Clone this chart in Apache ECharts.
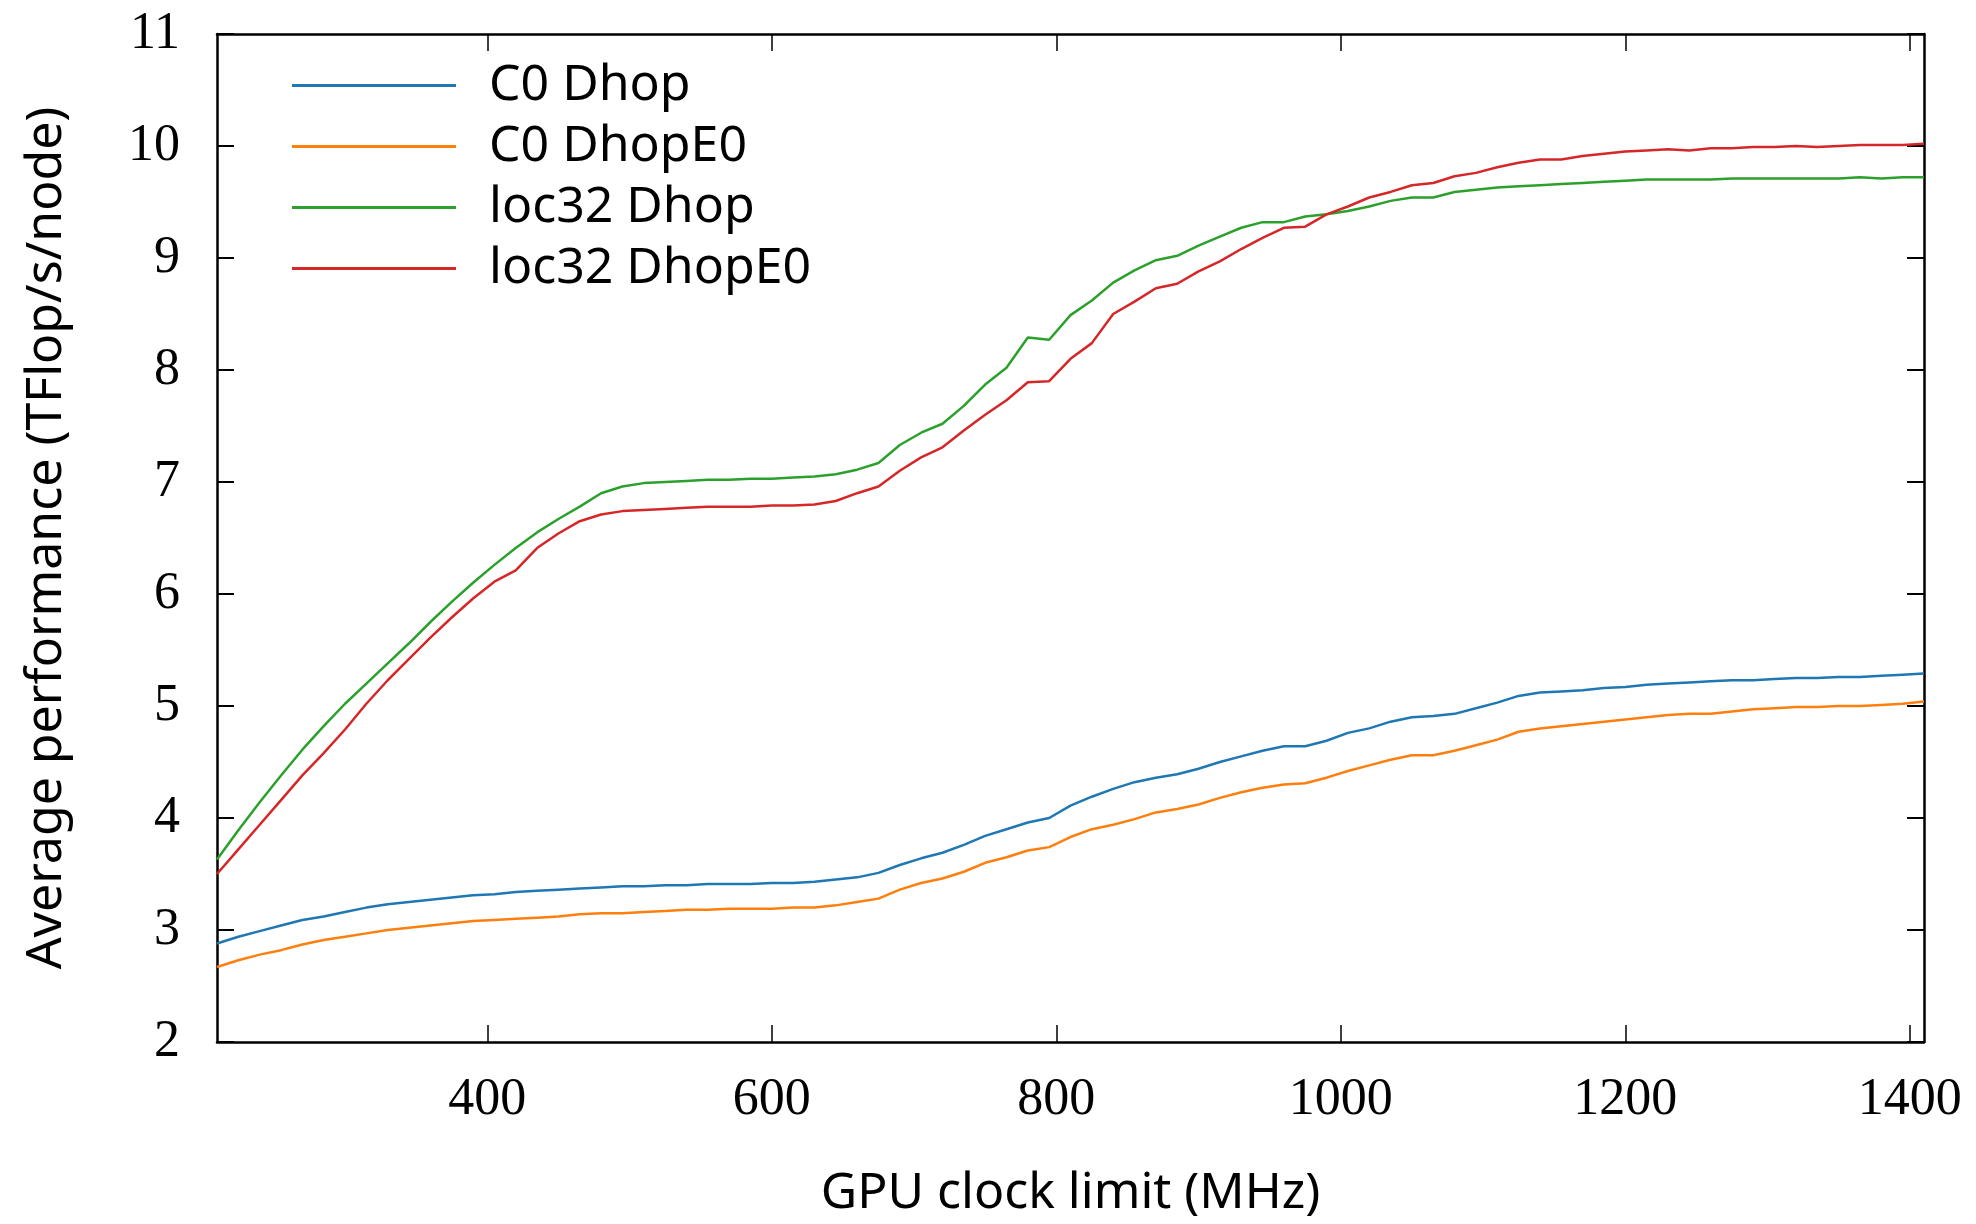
<!DOCTYPE html>
<html>
<head>
<meta charset="utf-8">
<title>GPU clock limit vs performance</title>
<script src="https://cdn.jsdelivr.net/npm/echarts@6/dist/echarts.min.js"></script>
<style>
    html, body { margin: 0; padding: 0; background: #fff; }
    #chart { width: 1976px; height: 1224px; }
</style>
</head>
<body>
<div id="chart"></div>
<script>
// GPU clock steps (MHz)
var clocks = [210, 225, 240, 255, 270, 285, 300, 315, 330, 345, 360, 375, 390, 405, 420, 435,
    450, 465, 480, 495, 510, 525, 540, 555, 570, 585, 600, 615, 630, 645, 660, 675, 690, 705,
    720, 735, 750, 765, 780, 795, 810, 825, 840, 855, 870, 885, 900, 915, 930, 945, 960, 975,
    990, 1005, 1020, 1035, 1050, 1065, 1080, 1095, 1110, 1125, 1140, 1155, 1170, 1185, 1200,
    1215, 1230, 1245, 1260, 1275, 1290, 1305, 1320, 1335, 1350, 1365, 1380, 1395, 1410];

// TFlop/s/node
var c0Dhop = [2.88, 2.94, 2.99, 3.04, 3.09, 3.12, 3.16, 3.20, 3.23, 3.25, 3.27, 3.29, 3.31, 3.32,
    3.34, 3.35, 3.36, 3.37, 3.38, 3.39, 3.39, 3.40, 3.40, 3.41, 3.41, 3.41, 3.42, 3.42, 3.43, 3.45,
    3.47, 3.51, 3.58, 3.64, 3.69, 3.76, 3.84, 3.90, 3.96, 4.00, 4.11, 4.19, 4.26, 4.32, 4.36, 4.39,
    4.44, 4.50, 4.55, 4.60, 4.64, 4.64, 4.69, 4.76, 4.80, 4.86, 4.90, 4.91, 4.93, 4.98, 5.03, 5.09,
    5.12, 5.13, 5.14, 5.16, 5.17, 5.19, 5.20, 5.21, 5.22, 5.23, 5.23, 5.24, 5.25, 5.25, 5.26, 5.26,
    5.27, 5.28, 5.29];
var c0DhopE0 = [2.67, 2.73, 2.78, 2.82, 2.87, 2.91, 2.94, 2.97, 3.00, 3.02, 3.04, 3.06, 3.08, 3.09,
    3.10, 3.11, 3.12, 3.14, 3.15, 3.15, 3.16, 3.17, 3.18, 3.18, 3.19, 3.19, 3.19, 3.20, 3.20, 3.22,
    3.25, 3.28, 3.36, 3.42, 3.46, 3.52, 3.60, 3.65, 3.71, 3.74, 3.83, 3.90, 3.94, 3.99, 4.05, 4.08,
    4.12, 4.18, 4.23, 4.27, 4.30, 4.31, 4.36, 4.42, 4.47, 4.52, 4.56, 4.56, 4.60, 4.65, 4.70, 4.77,
    4.80, 4.82, 4.84, 4.86, 4.88, 4.90, 4.92, 4.93, 4.93, 4.95, 4.97, 4.98, 4.99, 4.99, 5.00, 5.00,
    5.01, 5.02, 5.04];
var loc32Dhop = [3.63, 3.89, 4.14, 4.38, 4.61, 4.82, 5.02, 5.20, 5.38, 5.56, 5.75, 5.93, 6.10, 6.26,
    6.41, 6.55, 6.67, 6.78, 6.90, 6.96, 6.99, 7.00, 7.01, 7.02, 7.02, 7.03, 7.03, 7.04, 7.05, 7.07,
    7.11, 7.17, 7.33, 7.44, 7.52, 7.68, 7.87, 8.02, 8.29, 8.27, 8.49, 8.62, 8.78, 8.89, 8.98, 9.02,
    9.11, 9.19, 9.27, 9.32, 9.32, 9.37, 9.39, 9.42, 9.46, 9.51, 9.54, 9.54, 9.59, 9.61, 9.63, 9.64,
    9.65, 9.66, 9.67, 9.68, 9.69, 9.70, 9.70, 9.70, 9.70, 9.71, 9.71, 9.71, 9.71, 9.71, 9.71, 9.72,
    9.71, 9.72, 9.72];
var loc32DhopE0 = [3.50, 3.72, 3.94, 4.16, 4.38, 4.58, 4.79, 5.02, 5.23, 5.42, 5.61, 5.79, 5.96, 6.11,
    6.21, 6.41, 6.54, 6.65, 6.71, 6.74, 6.75, 6.76, 6.77, 6.78, 6.78, 6.78, 6.79, 6.79, 6.80, 6.83,
    6.90, 6.96, 7.10, 7.22, 7.31, 7.46, 7.60, 7.73, 7.89, 7.90, 8.10, 8.24, 8.50, 8.61, 8.73, 8.77,
    8.88, 8.97, 9.08, 9.18, 9.27, 9.28, 9.39, 9.46, 9.54, 9.59, 9.65, 9.67, 9.73, 9.76, 9.81, 9.85,
    9.88, 9.88, 9.91, 9.93, 9.95, 9.96, 9.97, 9.96, 9.98, 9.98, 9.99, 9.99, 10.00, 9.99, 10.00, 10.01,
    10.01, 10.01, 10.02];

var seriesNames = ['C0 Dhop', 'C0 DhopE0', 'loc32 Dhop', 'loc32 DhopE0'];
var seriesColors = ['#1f77b4', '#ff7f0e', '#2ca02c', '#d62728'];
var xTicks = [400, 600, 800, 1000, 1200, 1400];
var yTicks = [2, 3, 4, 5, 6, 7, 8, 9, 10, 11];

var sansFont = 'Noto Sans';
var serifFont = 'Liberation Serif';

function pairs(values) {
    return clocks.map(function (c, i) { return [c, values[i]]; });
}

function makeSeries(values, idx) {
    return {
        name: seriesNames[idx],
        type: 'line',
        data: pairs(values),
        symbol: 'none',
        smooth: false,
        animation: false,
        lineStyle: { color: seriesColors[idx], width: 2.5 },
        itemStyle: { color: seriesColors[idx] }
    };
}

// plain numbers, no thousands separator
function plain(v) {
    return String(v);
}

// shared frame line
var frame = { show: true, lineStyle: { color: '#000', width: 2.5 } };

function option() {
    return {
        backgroundColor: '#fff',
        animation: false,
        grid: { left: 217, right: 52, top: 34, bottom: 179 },
        legend: {
            orient: 'vertical',
            left: 287,
            top: 50,
            icon: 'rect',
            itemWidth: 164,
            itemHeight: 3,
            itemGap: 0,
            textStyle: {
                fontFamily: sansFont,
                fontSize: 50,
                color: '#000',
                lineHeight: 61,
                padding: [0, 0, 0, 28]
            },
            data: seriesNames
        },
        xAxis: [{
            type: 'value',
            min: 210,
            max: 1410,
            position: 'bottom',
            name: 'GPU clock limit (MHz)',
            nameLocation: 'middle',
            nameGap: 127,
            nameTextStyle: { fontFamily: sansFont, fontSize: 50, color: '#000' },
            axisLine: frame,
            axisTick: {
                inside: true, length: 17, customValues: xTicks,
                lineStyle: { color: '#000', width: 1.5 }
            },
            axisLabel: {
                customValues: xTicks,
                formatter: plain,
                margin: 32,
                fontFamily: serifFont,
                fontSize: 52,
                color: '#000'
            },
            splitLine: { show: false }
        }, {
            type: 'value',
            min: 210,
            max: 1410,
            position: 'top',
            axisLine: frame,
            axisTick: {
                inside: true, length: 17, customValues: xTicks,
                lineStyle: { color: '#000', width: 1.5 }
            },
            axisLabel: { show: false },
            splitLine: { show: false }
        }],
        yAxis: [{
            type: 'value',
            min: 2,
            max: 11,
            interval: 1,
            position: 'left',
            name: 'Average performance (TFlop/s/node)',
            nameLocation: 'middle',
            nameGap: 145,
            nameTextStyle: { fontFamily: sansFont, fontSize: 50, color: '#000' },
            axisLine: frame,
            axisTick: {
                inside: true, length: 17, customValues: yTicks,
                lineStyle: { color: '#000', width: 2 }
            },
            axisLabel: {
                customValues: yTicks,
                formatter: plain,
                margin: 37,
                fontFamily: serifFont,
                fontSize: 52,
                color: '#000'
            },
            splitLine: { show: false }
        }, {
            type: 'value',
            min: 2,
            max: 11,
            interval: 1,
            position: 'right',
            axisLine: frame,
            axisTick: {
                inside: true, length: 17, customValues: yTicks,
                lineStyle: { color: '#000', width: 2 }
            },
            axisLabel: { show: false },
            splitLine: { show: false }
        }],
        series: [
            makeSeries(c0Dhop, 0),
            makeSeries(c0DhopE0, 1),
            makeSeries(loc32Dhop, 2),
            makeSeries(loc32DhopE0, 3)
        ]
    };
}

var chart = echarts.init(document.getElementById('chart'), null, { renderer: 'canvas' });
chart.setOption(option());
</script>
</body>
</html>
